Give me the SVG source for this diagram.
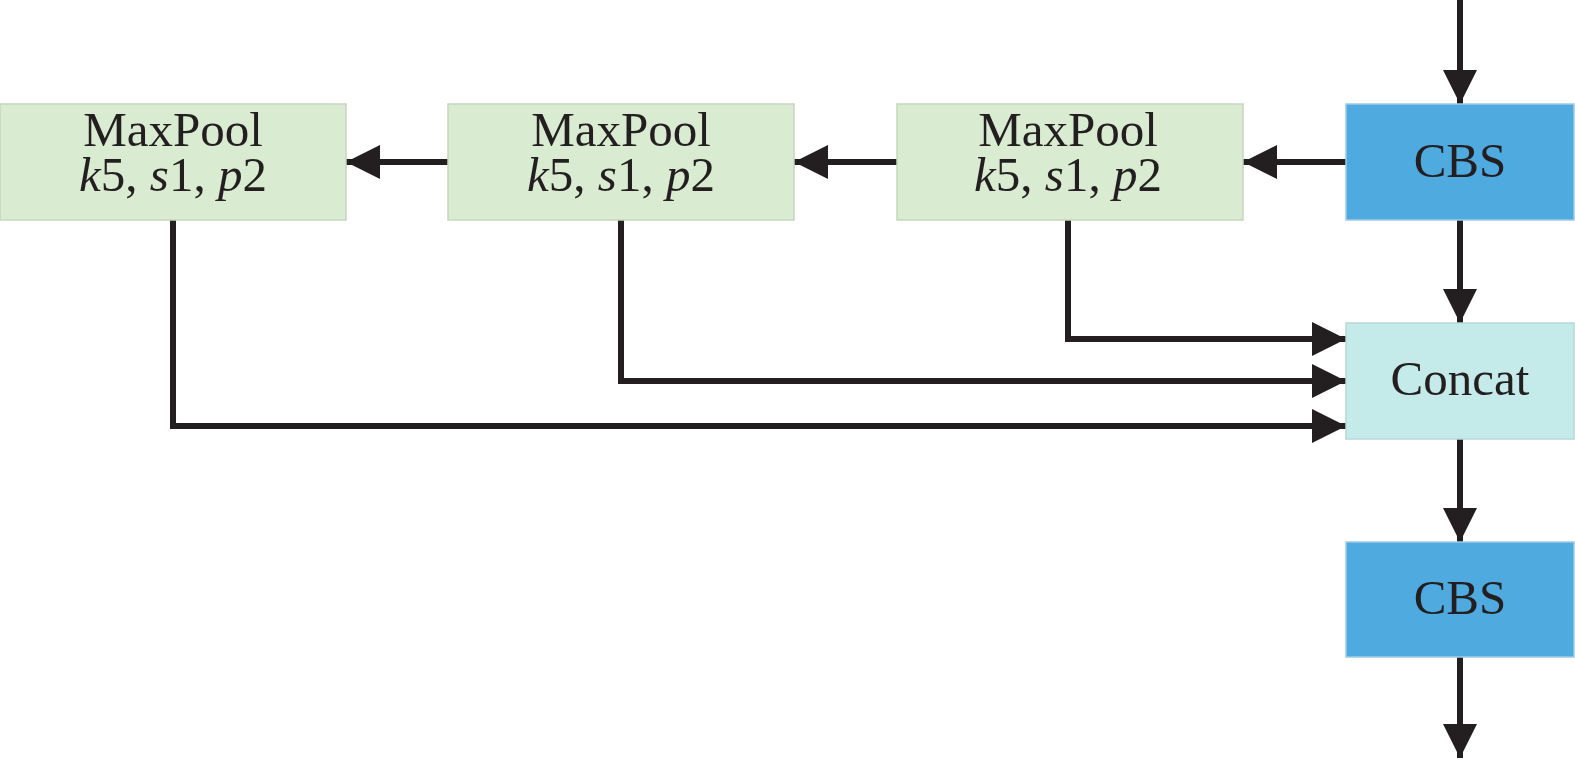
<svg xmlns="http://www.w3.org/2000/svg" width="1575" height="760" viewBox="0 0 1575 760">
<style>
.mp{fill:#d9ebd0;stroke:#c5d6be;stroke-width:1.5}
.cbs{fill:#4eaadf;stroke:#9fcbe6;stroke-width:1.5}
.cc{fill:#c5eaea;stroke:#b8d8d8;stroke-width:1.5}
text{font-family:"Liberation Serif","Times New Roman",serif;font-size:49px;fill:#231f20;text-anchor:middle}
.it{font-style:italic}
.ln{fill:none;stroke:#231f20;stroke-width:6}
</style>
<defs>
<marker id="ah" viewBox="0 0 10 10" refX="10" refY="5" markerWidth="34" markerHeight="34" markerUnits="userSpaceOnUse" orient="auto">
<path d="M0,0 L10,5 L0,10 Z" fill="#231f20"/>
</marker>
</defs>
<g id="connectors">
<path class="ln" d="M1460,0 V104" marker-end="url(#ah)"/>
<path class="ln" d="M1346,162 H1243" marker-end="url(#ah)"/>
<path class="ln" d="M897,162 H794" marker-end="url(#ah)"/>
<path class="ln" d="M448,162 H346" marker-end="url(#ah)"/>
<path class="ln" d="M1460,220 V323" marker-end="url(#ah)"/>
<path class="ln" d="M1068,220 V339 H1346" marker-end="url(#ah)"/>
<path class="ln" d="M621,220 V381 H1346" marker-end="url(#ah)"/>
<path class="ln" d="M173,220 V426 H1346" marker-end="url(#ah)"/>
<path class="ln" d="M1460,439 V542" marker-end="url(#ah)"/>
<path class="ln" d="M1460,657 V758" marker-end="url(#ah)"/>
</g>
<g id="maxpool1">
<rect class="mp" x="0" y="104" width="346" height="116"/>
<text x="173" y="146">MaxPool</text>
<text x="173" y="191"><tspan class="it">k</tspan>5, <tspan class="it">s</tspan>1, <tspan class="it">p</tspan>2</text>
</g>
<g id="maxpool2">
<rect class="mp" x="448" y="104" width="346" height="116"/>
<text x="621" y="146">MaxPool</text>
<text x="621" y="191"><tspan class="it">k</tspan>5, <tspan class="it">s</tspan>1, <tspan class="it">p</tspan>2</text>
</g>
<g id="maxpool3">
<rect class="mp" x="897" y="104" width="346" height="116"/>
<text x="1068" y="146">MaxPool</text>
<text x="1068" y="191"><tspan class="it">k</tspan>5, <tspan class="it">s</tspan>1, <tspan class="it">p</tspan>2</text>
</g>
<g id="cbs1">
<rect class="cbs" x="1346" y="104" width="228" height="116"/>
<text x="1460" y="177">CBS</text>
</g>
<g id="concat">
<rect class="cc" x="1346" y="323" width="228" height="116"/>
<text x="1460" y="395">Concat</text>
</g>
<g id="cbs2">
<rect class="cbs" x="1346" y="542" width="228" height="115"/>
<text x="1460" y="614">CBS</text>
</g>
</svg>
